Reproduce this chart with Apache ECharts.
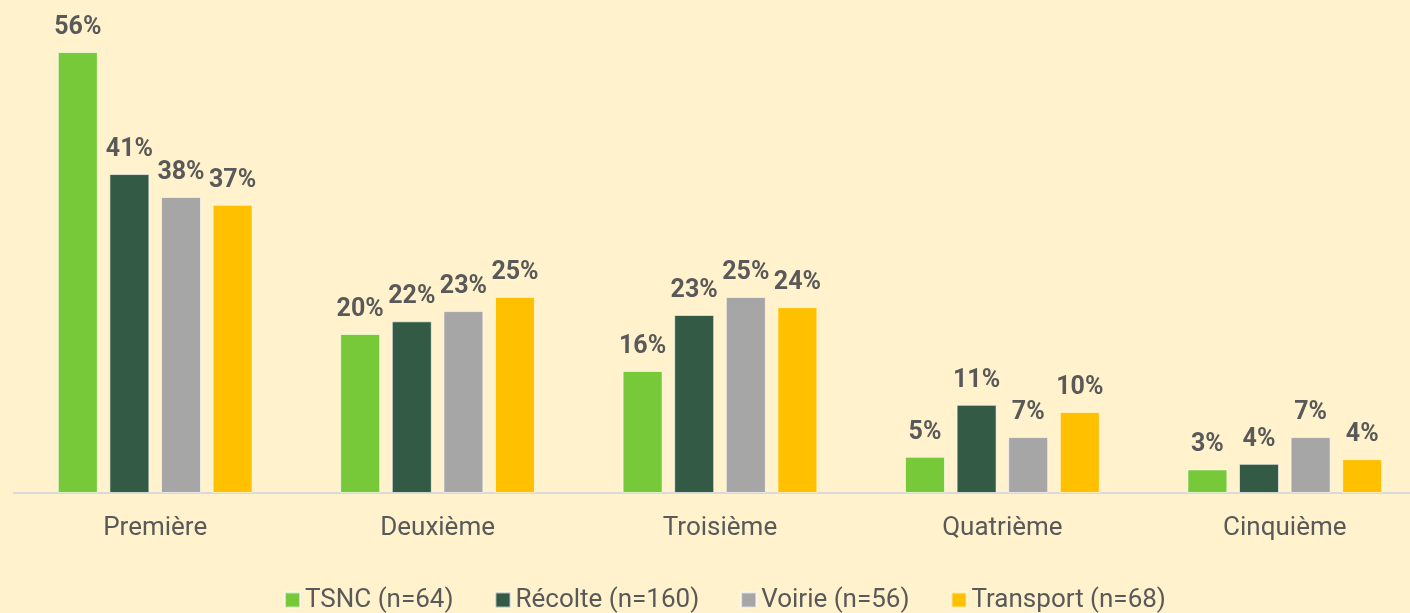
<!DOCTYPE html>
<html><head><meta charset="utf-8">
<script src="https://cdn.jsdelivr.net/npm/echarts@6/dist/echarts.min.js"></script>
<style>html,body{margin:0;padding:0;background:#FFF2CC;}#c{width:1410px;height:613px;}</style>
</head><body><div id="c"></div>
<script>
const categories = ['Première', 'Deuxième', 'Troisième', 'Quatrième', 'Cinquième'];
const seriesNames = ['TSNC (n=64)', 'Récolte (n=160)', 'Voirie (n=56)', 'Transport (n=68)'];
const tsnc = [56.0, 20.2, 15.5, 4.6, 3.0];
const recolte = [40.5, 21.8, 22.6, 11.2, 3.7];
const voirie = [37.6, 23.1, 24.9, 7.1, 7.1];
const transport = [36.6, 24.9, 23.6, 10.3, 4.3];
const colors = ['#77C93A', '#335A45', '#A6A6A6', '#FFC000'];

const seriesData = [tsnc, recolte, voirie, transport];
const chart = echarts.init(document.getElementById('c'));
chart.setOption({
  backgroundColor: '#FFF2CC',
  textStyle: { fontFamily: 'Roboto' },
  grid: { left: 14, width: 1412, top: 20.5, height: 472.5, outerBoundsMode: 'none', containLabel: false },
  legend: {
    top: 587, left: 284, padding: 0,
    itemWidth: 15, itemHeight: 15, itemGap: 41,
    icon: 'rect',
    textStyle: { fontSize: 26, color: '#595959', fontFamily: 'Roboto' },
    data: seriesNames
  },
  xAxis: {
    type: 'category', data: categories,
    axisLine: { lineStyle: { color: '#D9D9D9', width: 2 } },
    axisTick: { show: false },
    axisLabel: { fontSize: 26, color: '#595959', margin: 22 }
  },
  yAxis: { type: 'value', min: 0, max: 60, show: false, splitLine: { show: false } },
  series: seriesData.map((d, i) => ({
    name: seriesNames[i], type: 'bar', data: d,
    barWidth: 40, barGap: '29%',
    itemStyle: { color: colors[i], borderColor: 'rgba(255,255,255,0.6)', borderWidth: 1 },
    label: {
      show: true, position: 'top', distance: 12,
      fontSize: 25, fontWeight: 'bold', color: '#595959',
      formatter: p => Math.round(p.value) + '%'
    }
  }))
});
</script></body></html>
